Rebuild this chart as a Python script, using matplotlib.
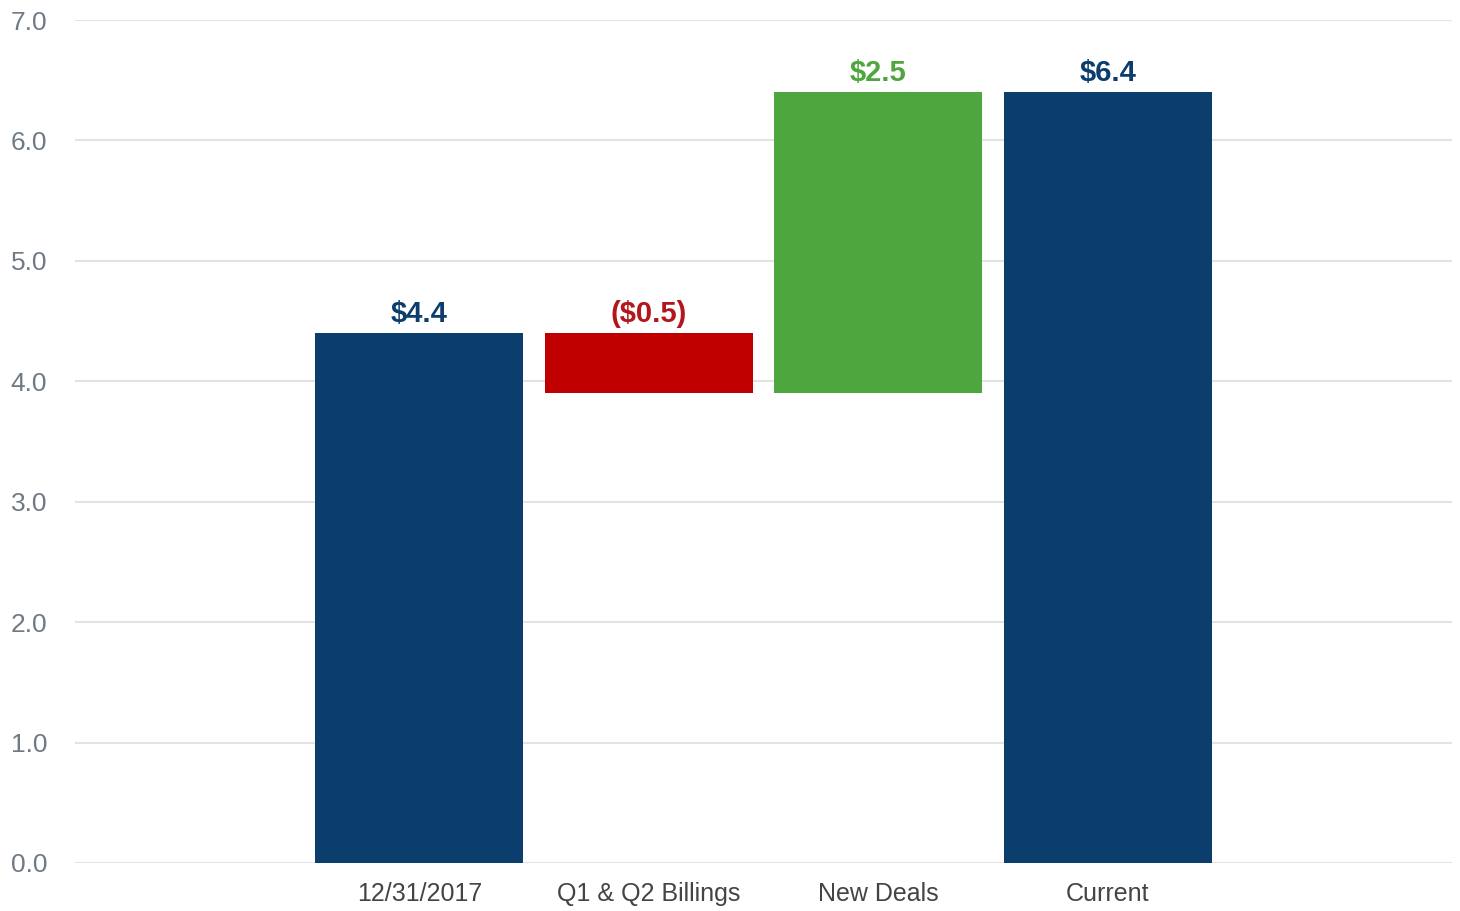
import matplotlib
matplotlib.use('Agg')
import matplotlib.pyplot as plt
import numpy as np

categories = ['12/31/2017', 'Q1 & Q2 Billings', 'New Deals', 'Current']
values = [4.4, -0.5, 2.5, 6.4]
labels = ['$4.4', '($0.5)', '$2.5', '$6.4']
kinds = ['total', 'delta', 'delta', 'total']

navy = '#0b3d6d'
red = '#c00000'
green = '#4ea63e'

plt.rcParams['font.family'] = ['Liberation Sans', 'DejaVu Sans']

fig = plt.figure(figsize=(14.6, 9.11), dpi=100)
ax = fig.add_axes([0.0514, 0.0527, 0.9431, 0.9253])

# waterfall: running level
bottoms = []
heights = []
colors = []
txtcol = []
level = 0
for v, k in zip(values, kinds):
    if k == 'total':
        bottoms.append(0)
        heights.append(v)
        colors.append(navy)
        txtcol.append(navy)
        level = v
    else:
        if v < 0:
            bottoms.append(level + v)
            heights.append(-v)
            colors.append(red)
            txtcol.append('#b3161b')
        else:
            bottoms.append(level)
            heights.append(v)
            colors.append(green)
            txtcol.append(green)
        level = level + v

x = np.arange(1, len(categories) + 1)
ax.bar(x, heights, bottom=bottoms, width=0.906, color=colors, zorder=3)

for xi, b, h, lab, c in zip(x, bottoms, heights, labels, txtcol):
    ax.text(xi, b + h + 0.04, lab, ha='center', va='bottom', fontsize=21,
            fontweight='bold', color=c)

ax.set_xlim(-0.5, 5.5)
ax.set_ylim(0, 7.0)
ax.set_yticks(np.arange(0, 7.5, 1.0))
ax.set_yticklabels(['%.1f' % t for t in np.arange(0, 7.5, 1.0)])
ax.set_xticks(x)
ax.set_xticklabels(categories)

ax.grid(axis='y', color='#e3e3e3', linewidth=1.5, zorder=0)
for s in ax.spines.values():
    s.set_visible(False)
ax.tick_params(axis='y', length=0, pad=20, labelsize=19, labelcolor='#6f7a86')
ax.tick_params(axis='x', length=0, pad=14, labelsize=18, labelcolor='#444444')

plt.savefig('out.png', dpi=100)
